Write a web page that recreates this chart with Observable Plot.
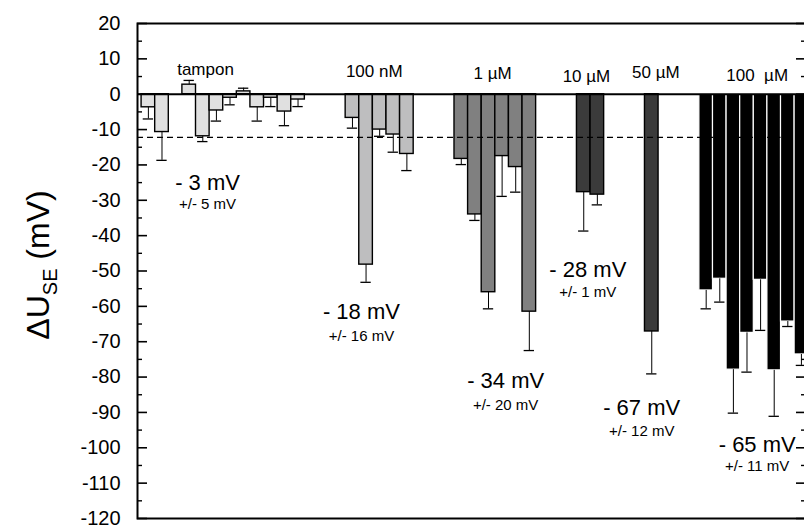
<!DOCTYPE html>
<html><head><meta charset="utf-8">
<script src="https://cdn.jsdelivr.net/npm/d3@7"></script>
<script src="https://cdn.jsdelivr.net/npm/@observablehq/plot@0.6"></script>
<style>
html,body{margin:0;padding:0;background:#fff;overflow:hidden;}
#chart svg{max-width:none !important;display:block;}
</style></head><body><div id="chart"></div>
<script>
// ---- data ----
const groups = ["tampon", "100 nM", "1 µM", "10 µM", "50 µM", "100  µM"];
const barGroup = [0,0,0,0,0,0,0,0,0,0,0, 1,1,1,1,1, 2,2,2,2,2,2, 3,3, 4, 5,5,5,5,5,5,5,5];
const barSlot  = [0,1,3,4,5,6,7,8,9,10,11, 15,16,17,18,19, 23,24,25,26,27,28, 32,33, 37, 41,42,43,44,45,46,47,48];
const barValue = [-3.7,-10.7,2.7,-11.9,-4.6,-1.0,0.8,-3.7,-1.0,-4.9,-1.5,
                  -6.7,-48.2,-10.0,-11.4,-16.9,
                  -18.3,-34.0,-56.0,-17.5,-20.6,-61.5,
                  -27.7,-28.4,
                  -67.1,
                  -55.5,-52.2,-77.9,-67.5,-52.5,-78.1,-64.3,-73.6];
const barError = [3.3,8.0,1.2,1.5,3.0,2.0,0.9,3.9,2.5,4.0,2.0,
                  2.9,5.0,1.9,5.0,4.7,
                  1.6,1.7,4.7,11.4,7.1,11.0,
                  11.0,2.9,
                  12.0,
                  5.2,6.6,12.3,11.1,14.3,13.0,1.4,3.1];
const groupLabelX = [4.2, 16.6, 25.3, 32.2, 37.3, 44.75];
const groupLabelY = [5.5, 5.0, 4.2, 3.5, 4.7, 3.8];
const noteMean = ["- 3 mV", "- 18 mV", "- 34 mV", "- 28 mV", "- 67 mV", "- 65 mV"];
const noteSd   = ["+/- 5 mV", "+/- 16 mV", "+/- 20 mV", "+/- 1 mV", "+/- 12 mV", "+/- 11 mV"];
const noteX    = [4.35, 15.66, 26.26, 32.3, 36.26, 44.75];
const noteMeanY = [-25.0, -61.7, -81.0, -49.7, -88.7, -99.2];
const noteSdY   = [-31.2, -68.3, -88.0, -56.1, -95.4, -105.3];
const threshold = -12.2;
const thresholdEnd = 46.5;
const yMajorTicks = d3.range(-120, 21, 10);
const yMinorTicks = d3.range(-115, 20, 10);
const yLabelMain = "ΔU", yLabelSub = "SE", yLabelUnit = " (mV)";
const groupColors = ["#e0e0e0", "#bebebf", "#808080", "#3b3b3b", "#3b3b3b", "#000000"];

// ---- tables ----
const bars = barSlot.map((s, i) => ({
  slot: s, value: barValue[i], err: barError[i], group: groups[barGroup[i]],
  end: barValue[i] + Math.sign(barValue[i]) * barError[i]
}));
const greyBars = bars.filter(d => d.group !== groups[5]);
const blackBars = bars.filter(d => d.group === groups[5]);
const labels = groups.map((g, i) => ({text: g, x: groupLabelX[i], y: groupLabelY[i]}));
const notes = noteMean.map((t, i) => ({mean: t, sd: noteSd[i], x: noteX[i], ym: noteMeanY[i], ys: noteSdY[i]}));

const font = "'Liberation Sans', Arial, Helvetica, sans-serif";
const chart = Plot.plot({
  width: 806, height: 527,
  marginLeft: 137, marginRight: 1, marginTop: 23, marginBottom: 9,
  style: {fontFamily: font, fontSize: "20px", color: "black", background: "white"},
  x: {domain: [-0.8, 48.3], axis: null},
  y: {domain: [-120, 20]},
  color: {domain: groups, range: groupColors},
  marks: [
    Plot.rect(greyBars, {x1: d => d.slot - 0.5, x2: d => d.slot + 0.5, y1: 0, y2: "value", fill: "group", stroke: "black", strokeWidth: 1.4}),
    Plot.rect(blackBars, {x1: d => d.slot - 0.5, x2: d => d.slot + 0.5, y1: 0, y2: "value", fill: "group", stroke: "white", strokeWidth: 1.2, clip: true}),
    Plot.ruleX(bars, {x: "slot", y1: "value", y2: "end", stroke: "black", strokeWidth: 1}),
    Plot.ruleY(bars, {y: "end", x1: d => d.slot - 0.38, x2: d => d.slot + 0.38, stroke: "black", strokeWidth: 1.3, clip: true}),
    Plot.ruleY([threshold], {x1: -0.8, x2: thresholdEnd, stroke: "black", strokeWidth: 1.2, strokeDasharray: "6,4"}),
    Plot.ruleY([0], {stroke: "black", strokeWidth: 2}),
    Plot.frame({stroke: "black", strokeWidth: 2}),
    Plot.axisY({anchor: "left", ticks: yMajorTicks, tickSize: -10, tickPadding: 27, tickFormat: d => String(d), strokeWidth: 1.6, fontSize: 20, label: null}),
    Plot.axisY({anchor: "left", ticks: yMinorTicks, tickSize: -5, tickFormat: () => "", strokeWidth: 1.4, label: null}),
    Plot.axisY({anchor: "right", ticks: yMajorTicks, tickSize: -10, tickFormat: () => "", strokeWidth: 1.6, label: null}),
    Plot.axisY({anchor: "right", ticks: yMinorTicks, tickSize: -5, tickFormat: () => "", strokeWidth: 1.4, label: null}),
    Plot.text(labels, {x: "x", y: "y", text: "text", fontSize: 17, lineAnchor: "bottom", fill: "black"}),
    Plot.text(notes, {x: "x", y: "ym", text: "mean", fontSize: 22, lineAnchor: "middle", fill: "black"}),
    Plot.text(notes, {x: "x", y: "ys", text: "sd", fontSize: 15, lineAnchor: "middle", fill: "black"}),
    Plot.text([yLabelMain + yLabelSub + yLabelUnit], {frameAnchor: "left", dx: -89, dy: -6, rotate: -90, fontSize: 32, lineAnchor: "bottom", textAnchor: "middle", fill: "black"})
  ]
});
document.getElementById("chart").appendChild(chart);

// subscript for the axis label
d3.select(chart).selectAll("text")
  .filter(function () { return this.textContent === yLabelMain + yLabelSub + yLabelUnit; })
  .each(function () {
    const t = d3.select(this);
    t.text(null);
    t.append("tspan").text(yLabelMain);
    t.append("tspan").attr("font-size", 20).attr("dy", 8).text(yLabelSub);
    t.append("tspan").attr("dy", -8).text(yLabelUnit);
  });
</script>
</body></html>
